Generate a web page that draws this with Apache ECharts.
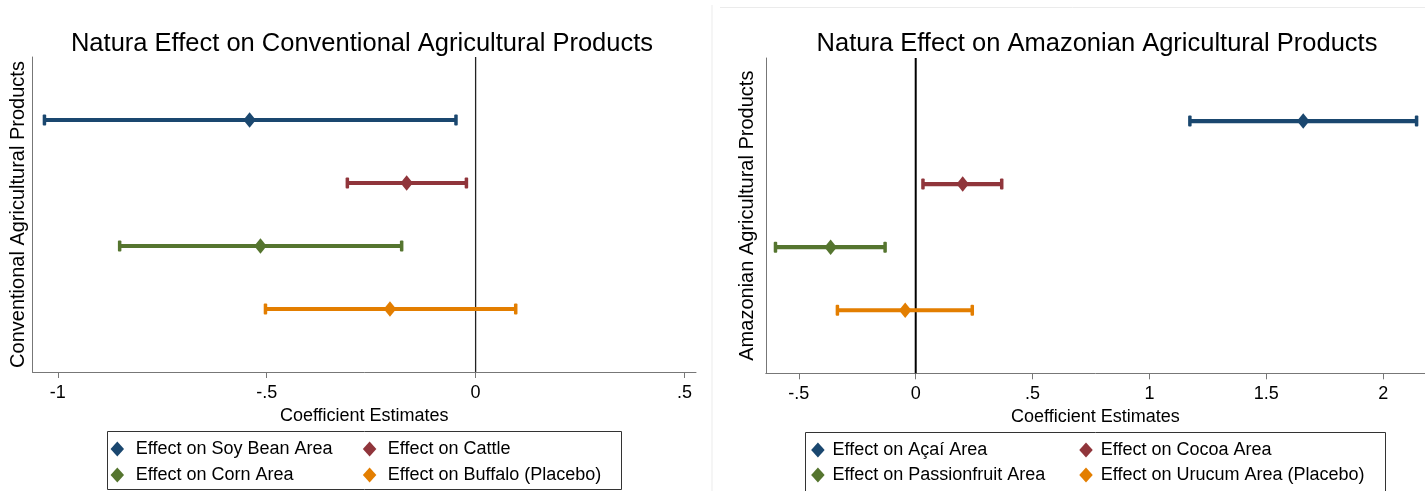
<!DOCTYPE html>
<html>
<head>
<meta charset="utf-8">
<script src="https://cdn.jsdelivr.net/npm/echarts@6/dist/echarts.min.js"></script>
<style>
  html, body { margin: 0; padding: 0; background: #fff; }
  #chart { width: 1425px; height: 491px; }
</style>
</head>
<body>
<div id="chart"></div>
<script>
// ---- Data: coefficient estimates with confidence bounds ----
const conventionalNames = ['Effect on Soy Bean Area', 'Effect on Cattle', 'Effect on Corn Area', 'Effect on Buffalo (Placebo)'];
const conventionalEstimate = [-0.541, -0.165, -0.515, -0.205];
const conventionalLower = [-1.032, -0.307, -0.852, -0.503];
const conventionalUpper = [-0.047, -0.022, -0.177, 0.096];

const amazonianNames = ['Effect on Açaí Area', 'Effect on Cocoa Area', 'Effect on Passionfruit Area', 'Effect on Urucum Area (Placebo)'];
const amazonianEstimate = [1.658, 0.201, -0.364, -0.045];
const amazonianLower = [1.173, 0.031, -0.600, -0.335];
const amazonianUpper = [2.143, 0.368, -0.131, 0.242];

// vertical slot of each estimate (top to bottom)
const rowPositions = [4, 3, 2, 1];

const conventionalTicks = [-1, -0.5, 0, 0.5];
const conventionalTickLabels = ['-1', '-.5', '0', '.5'];
const amazonianTicks = [-0.5, 0, 0.5, 1, 1.5, 2];
const amazonianTickLabels = ['-.5', '0', '.5', '1', '1.5', '2'];

const seriesColors = ['#1a476f', '#90353b', '#55752f', '#e37e00'];

// ---- Chart ----
const FONT = '"Liberation Sans", Arial, sans-serif';
const chart = echarts.init(document.getElementById('chart'), null, { renderer: 'canvas' });

function tickFormatter(ticks, labels) {
  return function (v) {
    for (let i = 0; i < ticks.length; i++) {
      if (Math.abs(ticks[i] - v) < 1e-9) return labels[i];
    }
    return '';
  };
}

function xAxisFor(gridIndex, min, max, ticks, labels) {
  return {
    type: 'value', gridIndex, min, max,
    name: 'Coefficient Estimates', nameLocation: 'middle', nameGap: 28,
    nameTextStyle: { fontFamily: FONT, fontSize: 18, color: '#000' },
    splitLine: { show: false },
    axisLine: { show: true, onZero: false, lineStyle: { color: '#777', width: 1 } },
    axisTick: { show: true, length: 6, customValues: ticks, lineStyle: { color: '#777', width: 1 } },
    axisLabel: { customValues: ticks, formatter: tickFormatter(ticks, labels), margin: 12,
                 fontFamily: FONT, fontSize: 18, color: '#000' }
  };
}

function yAxisFor(gridIndex, name, gap) {
  return {
    type: 'value', gridIndex, min: 0, max: 5,
    name, nameLocation: 'middle', nameRotate: 90, nameGap: gap,
    nameTextStyle: { fontFamily: FONT, fontSize: 20, color: '#000' },
    splitLine: { show: false },
    axisLine: { show: true, onZero: false, lineStyle: { color: '#777', width: 1 } },
    axisTick: { show: false },
    axisLabel: { show: false }
  };
}

// error-bar series: a horizontal bar with end caps, one per row
function ciSeries(axisIndex, lower, upper) {
  const data = lower.map((lo, i) => ({
    value: [lo, upper[i], rowPositions[i]],
    itemStyle: { color: seriesColors[i] }
  }));
  return {
    type: 'custom', xAxisIndex: axisIndex, yAxisIndex: axisIndex, z: 3,
    silent: true,
    renderItem: function (params, api) {
      const a = api.coord([api.value(0), api.value(2)]);
      const b = api.coord([api.value(1), api.value(2)]);
      const color = api.visual('color');
      const capW = 3.5, capH = 11;
      return {
        type: 'group',
        children: [
          { type: 'line', shape: { x1: a[0], y1: a[1], x2: b[0], y2: b[1] },
            style: { stroke: color, lineWidth: 4.2 } },
          { type: 'rect', shape: { x: a[0] - capW / 2, y: a[1] - capH / 2, width: capW, height: capH, r: 1 },
            style: { fill: color } },
          { type: 'rect', shape: { x: b[0] - capW / 2, y: b[1] - capH / 2, width: capW, height: capH, r: 1 },
            style: { fill: color } }
        ]
      };
    },
    encode: { x: [0, 1], y: 2 },
    data
  };
}

function zeroLineSeries(axisIndex, color, width) {
  return {
    type: 'line', xAxisIndex: axisIndex, yAxisIndex: axisIndex, z: 1,
    silent: true, symbol: 'none', lineStyle: { color, width },
    data: [[0, 0], [0, 5]]
  };
}

function pointSeries(axisIndex, names, estimates) {
  return names.map((name, i) => ({
    type: 'scatter', name, xAxisIndex: axisIndex, yAxisIndex: axisIndex, z: 4,
    symbol: 'diamond', symbolSize: [12.5, 15.5],
    itemStyle: { color: seriesColors[i], opacity: 1 },
    data: [[estimates[i], rowPositions[i]]]
  }));
}

// one legend block per entry so the two columns line up like a key table
function legendEntries(names, iconCenters, textStarts, rowCenters) {
  return names.map((name, i) => {
    const col = i % 2, row = Math.floor(i / 2);
    const iconW = 13.5, iconH = 15;
    return {
      data: [name], left: iconCenters[col] - iconW / 2, top: rowCenters[row] - 11,
      orient: 'horizontal', padding: 0, itemWidth: iconW, itemHeight: iconH,
      icon: 'diamond', selectedMode: false,
      textStyle: { fontFamily: FONT, fontSize: 18, color: '#000', lineHeight: 22,
                   padding: [0, 0, 0, textStarts[col] - (iconCenters[col] + iconW / 2) - 5] }
    };
  });
}

const option = {
  animation: false,
  backgroundColor: '#fff',
  title: [
    { text: 'Natura Effect on Conventional Agricultural Products', left: 357, top: 26, textAlign: 'center',
      textStyle: { fontFamily: FONT, fontSize: 25.5, fontWeight: 'normal', color: '#000' } },
    { text: 'Natura Effect on Amazonian Agricultural Products', left: 1092, top: 26, textAlign: 'center',
      textStyle: { fontFamily: FONT, fontSize: 25.5, fontWeight: 'normal', color: '#000' } }
  ],
  grid: [
    { left: 32.5, top: 57, width: 663.5, height: 315 },
    { left: 765.8, top: 58, width: 659.2, height: 315.3 }
  ],
  xAxis: [
    xAxisFor(0, -1.0606, 0.5275, conventionalTicks, conventionalTickLabels),
    xAxisFor(1, -0.6414, 2.179, amazonianTicks, amazonianTickLabels)
  ],
  yAxis: [
    yAxisFor(0, 'Conventional Agricultural Products', 4),
    yAxisFor(1, 'Amazonian Agricultural Products', 8)
  ],
  legend: [
    ...legendEntries(conventionalNames, [117.3, 369.6], [135.7, 387.8], [449, 475]),
    ...legendEntries(amazonianNames, [817.9, 1086], [832.5, 1100.8], [450, 475])
  ],
  graphic: [
    // key boxes
    { type: 'rect', shape: { x: 107.5, y: 431.5, width: 514, height: 58 },
      style: { fill: null, stroke: '#333', lineWidth: 1 }, z: 0 },
    { type: 'rect', shape: { x: 805.5, y: 432.5, width: 580, height: 60 },
      style: { fill: null, stroke: '#333', lineWidth: 1 }, z: 0 },
    // faint outer frame of the right-hand graph
    { type: 'line', shape: { x1: 712, y1: 5, x2: 712, y2: 491 },
      style: { stroke: '#ebebeb', lineWidth: 1 } },
    { type: 'line', shape: { x1: 720, y1: 7.5, x2: 1425, y2: 7.5 },
      style: { stroke: '#ebebeb', lineWidth: 1 } }
  ],
  series: [
    zeroLineSeries(0, '#222', 1.3),
    zeroLineSeries(1, '#000', 2),
    ciSeries(0, conventionalLower, conventionalUpper),
    ciSeries(1, amazonianLower, amazonianUpper),
    ...pointSeries(0, conventionalNames, conventionalEstimate),
    ...pointSeries(1, amazonianNames, amazonianEstimate)
  ]
};

chart.setOption(option);
</script>
</body>
</html>
